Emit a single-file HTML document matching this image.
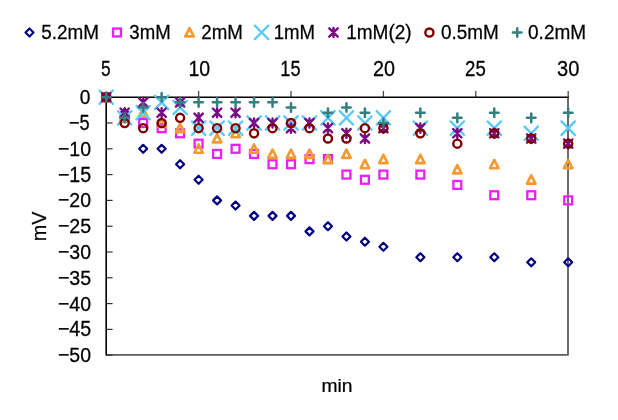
<!DOCTYPE html>
<html><head><meta charset="utf-8"><style>
html,body{margin:0;padding:0;background:#fff;}
svg{display:block;will-change:transform;}
</style></head><body>
<svg width="618" height="420" viewBox="0 0 618 420">
<rect width="618" height="420" fill="#fff"/>
<path d="M29.50 28.50L33.50 32.50L29.50 36.50L25.50 32.50Z" fill="none" stroke="#000080" stroke-width="2.2" stroke-linejoin="round"/>
<text transform="matrix(0.18908 0 0 0.20704 41.244 38.693)" font-size="100" font-family="Liberation Sans" fill="#000" stroke="#000" stroke-width="1.3">5.2mM</text>
<rect x="113.05" y="28.55" width="7.90" height="7.90" fill="none" stroke="#E820F2" stroke-width="2.3"/>
<text transform="matrix(0.18619 0 0 0.20704 129.355 38.693)" font-size="100" font-family="Liberation Sans" fill="#000" stroke="#000" stroke-width="1.3">3mM</text>
<path d="M189.50 28.20L193.70 36.45L185.30 36.45Z" fill="none" stroke="#F39B30" stroke-width="2.7" stroke-linejoin="round"/>
<text transform="matrix(0.18708 0 0 0.20704 201.265 38.693)" font-size="100" font-family="Liberation Sans" fill="#000" stroke="#000" stroke-width="1.3">2mM</text>
<path d="M254.90 25.70L268.30 39.10M268.30 25.70L254.90 39.10" stroke="#5CCBF7" stroke-width="2.4" stroke-linecap="round"/>
<text transform="matrix(0.18592 0 0 0.20704 273.713 38.693)" font-size="100" font-family="Liberation Sans" fill="#000" stroke="#000" stroke-width="1.3">1mM</text>
<path d="M329.30 28.30L337.70 36.70M337.70 28.30L329.30 36.70M333.50 27.90L333.50 37.10" stroke="#7A0A85" stroke-width="2.4" stroke-linecap="round"/>
<text transform="matrix(0.19030 0 0 0.20704 346.178 38.693)" font-size="100" font-family="Liberation Sans" fill="#000" stroke="#000" stroke-width="1.3">1mM(2)</text>
<circle cx="429.40" cy="32.50" r="4.05" fill="none" stroke="#7E0000" stroke-width="2.4"/>
<text transform="matrix(0.18908 0 0 0.20704 440.944 38.693)" font-size="100" font-family="Liberation Sans" fill="#000" stroke="#000" stroke-width="1.3">0.5mM</text>
<path d="M512.90 32.50L521.50 32.50M517.20 28.20L517.20 36.80" stroke="#347F80" stroke-width="2.5" stroke-linecap="round"/>
<text transform="matrix(0.19010 0 0 0.20704 528.040 38.693)" font-size="100" font-family="Liberation Sans" fill="#000" stroke="#000" stroke-width="1.3">0.2mM</text>
<path d="M568.0 97.20V354.8H106.20" fill="none" stroke="#5E5E5E" stroke-width="1.8" stroke-linejoin="round"/>
<path d="M198.60 91.0V97.20" stroke="#4A4A4A" stroke-width="1.3"/>
<path d="M291.00 91.0V97.20" stroke="#4A4A4A" stroke-width="1.3"/>
<path d="M383.40 91.0V97.20" stroke="#4A4A4A" stroke-width="1.3"/>
<path d="M475.80 91.0V97.20" stroke="#4A4A4A" stroke-width="1.3"/>
<path d="M568.20 91.0V97.20" stroke="#4A4A4A" stroke-width="1.3"/>
<path d="M106.20 123.00H112.6" stroke="#333" stroke-width="1.2"/>
<path d="M106.20 148.80H112.6" stroke="#333" stroke-width="1.2"/>
<path d="M106.20 174.60H112.6" stroke="#333" stroke-width="1.2"/>
<path d="M106.20 200.40H112.6" stroke="#333" stroke-width="1.2"/>
<path d="M106.20 226.20H112.6" stroke="#333" stroke-width="1.2"/>
<path d="M106.20 252.00H112.6" stroke="#333" stroke-width="1.2"/>
<path d="M106.20 277.80H112.6" stroke="#333" stroke-width="1.2"/>
<path d="M106.20 303.60H112.6" stroke="#333" stroke-width="1.2"/>
<path d="M106.20 329.40H112.6" stroke="#333" stroke-width="1.2"/>
<path d="M106.20 355.20H112.6" stroke="#333" stroke-width="1.2"/>
<path d="M568.70 97.20H106.20V355.6" fill="none" stroke="#000" stroke-width="1.6"/>
<text transform="matrix(0.17234 0 0 0.21857 101.111 75.781)" font-size="100" font-family="Liberation Sans" fill="#000" stroke="#000" stroke-width="1.3">5</text>
<text transform="matrix(0.19495 0 0 0.21549 188.440 75.785)" font-size="100" font-family="Liberation Sans" fill="#000" stroke="#000" stroke-width="1.3">10</text>
<text transform="matrix(0.18081 0 0 0.21857 280.354 75.781)" font-size="100" font-family="Liberation Sans" fill="#000" stroke="#000" stroke-width="1.3">15</text>
<text transform="matrix(0.19804 0 0 0.21549 373.010 75.785)" font-size="100" font-family="Liberation Sans" fill="#000" stroke="#000" stroke-width="1.3">20</text>
<text transform="matrix(0.18627 0 0 0.21549 465.069 75.785)" font-size="100" font-family="Liberation Sans" fill="#000" stroke="#000" stroke-width="1.3">25</text>
<text transform="matrix(0.20097 0 0 0.21549 556.996 75.785)" font-size="100" font-family="Liberation Sans" fill="#000" stroke="#000" stroke-width="1.3">30</text>
<text transform="matrix(0.19167 0 0 0.21127 79.633 104.289)" font-size="100" font-family="Liberation Sans" fill="#000" stroke="#000" stroke-width="1.3">0</text>
<text transform="matrix(0.18190 0 0 0.21429 68.990 130.086)" font-size="100" font-family="Liberation Sans" fill="#000" stroke="#000" stroke-width="1.3">−5</text>
<text transform="matrix(0.19503 0 0 0.21127 57.925 155.889)" font-size="100" font-family="Liberation Sans" fill="#000" stroke="#000" stroke-width="1.3">−10</text>
<text transform="matrix(0.19625 0 0 0.21429 57.919 181.686)" font-size="100" font-family="Liberation Sans" fill="#000" stroke="#000" stroke-width="1.3">−15</text>
<text transform="matrix(0.19503 0 0 0.21127 57.925 207.489)" font-size="100" font-family="Liberation Sans" fill="#000" stroke="#000" stroke-width="1.3">−20</text>
<text transform="matrix(0.19625 0 0 0.21127 57.919 233.289)" font-size="100" font-family="Liberation Sans" fill="#000" stroke="#000" stroke-width="1.3">−25</text>
<text transform="matrix(0.19503 0 0 0.21127 57.925 259.089)" font-size="100" font-family="Liberation Sans" fill="#000" stroke="#000" stroke-width="1.3">−30</text>
<text transform="matrix(0.19625 0 0 0.21127 57.919 284.889)" font-size="100" font-family="Liberation Sans" fill="#000" stroke="#000" stroke-width="1.3">−35</text>
<text transform="matrix(0.19503 0 0 0.21127 57.925 310.689)" font-size="100" font-family="Liberation Sans" fill="#000" stroke="#000" stroke-width="1.3">−40</text>
<text transform="matrix(0.19625 0 0 0.21429 57.919 336.486)" font-size="100" font-family="Liberation Sans" fill="#000" stroke="#000" stroke-width="1.3">−45</text>
<text transform="matrix(0.19503 0 0 0.21127 57.925 362.289)" font-size="100" font-family="Liberation Sans" fill="#000" stroke="#000" stroke-width="1.3">−50</text>
<text transform="matrix(0.19257 0 0 0.18356 321.452 391.700)" font-size="100" font-family="Liberation Sans" fill="#000" stroke="#000" stroke-width="1.3">min</text>
<text transform="matrix(0 -0.19789 0.20435 0 46.000 241.185)" font-size="100" font-family="Liberation Sans" fill="#000" stroke="#000" stroke-width="1.3">mV</text>
<path d="M106.20 93.20L110.20 97.20L106.20 101.20L102.20 97.20Z" fill="none" stroke="#000080" stroke-width="2.2" stroke-linejoin="round"/>
<path d="M124.68 108.68L128.68 112.68L124.68 116.68L120.68 112.68Z" fill="none" stroke="#000080" stroke-width="2.2" stroke-linejoin="round"/>
<path d="M143.16 144.80L147.16 148.80L143.16 152.80L139.16 148.80Z" fill="none" stroke="#000080" stroke-width="2.2" stroke-linejoin="round"/>
<path d="M161.64 144.80L165.64 148.80L161.64 152.80L157.64 148.80Z" fill="none" stroke="#000080" stroke-width="2.2" stroke-linejoin="round"/>
<path d="M180.12 160.28L184.12 164.28L180.12 168.28L176.12 164.28Z" fill="none" stroke="#000080" stroke-width="2.2" stroke-linejoin="round"/>
<path d="M198.60 175.76L202.60 179.76L198.60 183.76L194.60 179.76Z" fill="none" stroke="#000080" stroke-width="2.2" stroke-linejoin="round"/>
<path d="M217.08 196.40L221.08 200.40L217.08 204.40L213.08 200.40Z" fill="none" stroke="#000080" stroke-width="2.2" stroke-linejoin="round"/>
<path d="M235.56 201.56L239.56 205.56L235.56 209.56L231.56 205.56Z" fill="none" stroke="#000080" stroke-width="2.2" stroke-linejoin="round"/>
<path d="M254.04 211.88L258.04 215.88L254.04 219.88L250.04 215.88Z" fill="none" stroke="#000080" stroke-width="2.2" stroke-linejoin="round"/>
<path d="M272.52 211.88L276.52 215.88L272.52 219.88L268.52 215.88Z" fill="none" stroke="#000080" stroke-width="2.2" stroke-linejoin="round"/>
<path d="M291.00 211.88L295.00 215.88L291.00 219.88L287.00 215.88Z" fill="none" stroke="#000080" stroke-width="2.2" stroke-linejoin="round"/>
<path d="M309.48 227.36L313.48 231.36L309.48 235.36L305.48 231.36Z" fill="none" stroke="#000080" stroke-width="2.2" stroke-linejoin="round"/>
<path d="M327.96 222.20L331.96 226.20L327.96 230.20L323.96 226.20Z" fill="none" stroke="#000080" stroke-width="2.2" stroke-linejoin="round"/>
<path d="M346.44 232.52L350.44 236.52L346.44 240.52L342.44 236.52Z" fill="none" stroke="#000080" stroke-width="2.2" stroke-linejoin="round"/>
<path d="M364.92 237.68L368.92 241.68L364.92 245.68L360.92 241.68Z" fill="none" stroke="#000080" stroke-width="2.2" stroke-linejoin="round"/>
<path d="M383.40 242.84L387.40 246.84L383.40 250.84L379.40 246.84Z" fill="none" stroke="#000080" stroke-width="2.2" stroke-linejoin="round"/>
<path d="M420.36 253.16L424.36 257.16L420.36 261.16L416.36 257.16Z" fill="none" stroke="#000080" stroke-width="2.2" stroke-linejoin="round"/>
<path d="M457.32 253.16L461.32 257.16L457.32 261.16L453.32 257.16Z" fill="none" stroke="#000080" stroke-width="2.2" stroke-linejoin="round"/>
<path d="M494.28 253.16L498.28 257.16L494.28 261.16L490.28 257.16Z" fill="none" stroke="#000080" stroke-width="2.2" stroke-linejoin="round"/>
<path d="M531.24 258.32L535.24 262.32L531.24 266.32L527.24 262.32Z" fill="none" stroke="#000080" stroke-width="2.2" stroke-linejoin="round"/>
<path d="M568.20 258.32L572.20 262.32L568.20 266.32L564.20 262.32Z" fill="none" stroke="#000080" stroke-width="2.2" stroke-linejoin="round"/>
<rect x="102.25" y="93.25" width="7.90" height="7.90" fill="none" stroke="#E820F2" stroke-width="2.3"/>
<rect x="120.73" y="113.89" width="7.90" height="7.90" fill="none" stroke="#E820F2" stroke-width="2.3"/>
<rect x="139.21" y="119.05" width="7.90" height="7.90" fill="none" stroke="#E820F2" stroke-width="2.3"/>
<rect x="157.69" y="124.21" width="7.90" height="7.90" fill="none" stroke="#E820F2" stroke-width="2.3"/>
<rect x="176.17" y="129.37" width="7.90" height="7.90" fill="none" stroke="#E820F2" stroke-width="2.3"/>
<rect x="194.65" y="139.69" width="7.90" height="7.90" fill="none" stroke="#E820F2" stroke-width="2.3"/>
<rect x="213.13" y="150.01" width="7.90" height="7.90" fill="none" stroke="#E820F2" stroke-width="2.3"/>
<rect x="231.61" y="144.85" width="7.90" height="7.90" fill="none" stroke="#E820F2" stroke-width="2.3"/>
<rect x="250.09" y="150.01" width="7.90" height="7.90" fill="none" stroke="#E820F2" stroke-width="2.3"/>
<rect x="268.57" y="160.33" width="7.90" height="7.90" fill="none" stroke="#E820F2" stroke-width="2.3"/>
<rect x="287.05" y="160.33" width="7.90" height="7.90" fill="none" stroke="#E820F2" stroke-width="2.3"/>
<rect x="305.53" y="155.17" width="7.90" height="7.90" fill="none" stroke="#E820F2" stroke-width="2.3"/>
<rect x="324.01" y="155.17" width="7.90" height="7.90" fill="none" stroke="#E820F2" stroke-width="2.3"/>
<rect x="342.49" y="170.65" width="7.90" height="7.90" fill="none" stroke="#E820F2" stroke-width="2.3"/>
<rect x="360.97" y="175.81" width="7.90" height="7.90" fill="none" stroke="#E820F2" stroke-width="2.3"/>
<rect x="379.45" y="170.65" width="7.90" height="7.90" fill="none" stroke="#E820F2" stroke-width="2.3"/>
<rect x="416.41" y="170.65" width="7.90" height="7.90" fill="none" stroke="#E820F2" stroke-width="2.3"/>
<rect x="453.37" y="180.97" width="7.90" height="7.90" fill="none" stroke="#E820F2" stroke-width="2.3"/>
<rect x="490.33" y="191.29" width="7.90" height="7.90" fill="none" stroke="#E820F2" stroke-width="2.3"/>
<rect x="527.29" y="191.29" width="7.90" height="7.90" fill="none" stroke="#E820F2" stroke-width="2.3"/>
<rect x="564.25" y="196.45" width="7.90" height="7.90" fill="none" stroke="#E820F2" stroke-width="2.3"/>
<path d="M106.20 92.90L110.40 101.15L102.00 101.15Z" fill="none" stroke="#F39B30" stroke-width="2.7" stroke-linejoin="round"/>
<path d="M124.68 113.54L128.88 121.79L120.48 121.79Z" fill="none" stroke="#F39B30" stroke-width="2.7" stroke-linejoin="round"/>
<path d="M143.16 108.38L147.36 116.63L138.96 116.63Z" fill="none" stroke="#F39B30" stroke-width="2.7" stroke-linejoin="round"/>
<path d="M161.64 118.70L165.84 126.95L157.44 126.95Z" fill="none" stroke="#F39B30" stroke-width="2.7" stroke-linejoin="round"/>
<path d="M180.12 123.86L184.32 132.11L175.92 132.11Z" fill="none" stroke="#F39B30" stroke-width="2.7" stroke-linejoin="round"/>
<path d="M198.60 144.50L202.80 152.75L194.40 152.75Z" fill="none" stroke="#F39B30" stroke-width="2.7" stroke-linejoin="round"/>
<path d="M217.08 134.18L221.28 142.43L212.88 142.43Z" fill="none" stroke="#F39B30" stroke-width="2.7" stroke-linejoin="round"/>
<path d="M235.56 129.02L239.76 137.27L231.36 137.27Z" fill="none" stroke="#F39B30" stroke-width="2.7" stroke-linejoin="round"/>
<path d="M254.04 144.50L258.24 152.75L249.84 152.75Z" fill="none" stroke="#F39B30" stroke-width="2.7" stroke-linejoin="round"/>
<path d="M272.52 149.66L276.72 157.91L268.32 157.91Z" fill="none" stroke="#F39B30" stroke-width="2.7" stroke-linejoin="round"/>
<path d="M291.00 149.66L295.20 157.91L286.80 157.91Z" fill="none" stroke="#F39B30" stroke-width="2.7" stroke-linejoin="round"/>
<path d="M309.48 149.66L313.68 157.91L305.28 157.91Z" fill="none" stroke="#F39B30" stroke-width="2.7" stroke-linejoin="round"/>
<path d="M327.96 154.82L332.16 163.07L323.76 163.07Z" fill="none" stroke="#F39B30" stroke-width="2.7" stroke-linejoin="round"/>
<path d="M346.44 149.66L350.64 157.91L342.24 157.91Z" fill="none" stroke="#F39B30" stroke-width="2.7" stroke-linejoin="round"/>
<path d="M364.92 159.98L369.12 168.23L360.72 168.23Z" fill="none" stroke="#F39B30" stroke-width="2.7" stroke-linejoin="round"/>
<path d="M383.40 154.82L387.60 163.07L379.20 163.07Z" fill="none" stroke="#F39B30" stroke-width="2.7" stroke-linejoin="round"/>
<path d="M420.36 154.82L424.56 163.07L416.16 163.07Z" fill="none" stroke="#F39B30" stroke-width="2.7" stroke-linejoin="round"/>
<path d="M457.32 165.14L461.52 173.39L453.12 173.39Z" fill="none" stroke="#F39B30" stroke-width="2.7" stroke-linejoin="round"/>
<path d="M494.28 159.98L498.48 168.23L490.08 168.23Z" fill="none" stroke="#F39B30" stroke-width="2.7" stroke-linejoin="round"/>
<path d="M531.24 175.46L535.44 183.71L527.04 183.71Z" fill="none" stroke="#F39B30" stroke-width="2.7" stroke-linejoin="round"/>
<path d="M568.20 159.98L572.40 168.23L564.00 168.23Z" fill="none" stroke="#F39B30" stroke-width="2.7" stroke-linejoin="round"/>
<path d="M99.50 90.50L112.90 103.90M112.90 90.50L99.50 103.90" stroke="#5CCBF7" stroke-width="2.4" stroke-linecap="round"/>
<path d="M117.98 111.14L131.38 124.54M131.38 111.14L117.98 124.54" stroke="#5CCBF7" stroke-width="2.4" stroke-linecap="round"/>
<path d="M136.46 105.98L149.86 119.38M149.86 105.98L136.46 119.38" stroke="#5CCBF7" stroke-width="2.4" stroke-linecap="round"/>
<path d="M154.94 95.66L168.34 109.06M168.34 95.66L154.94 109.06" stroke="#5CCBF7" stroke-width="2.4" stroke-linecap="round"/>
<path d="M173.42 100.82L186.82 114.22M186.82 100.82L173.42 114.22" stroke="#5CCBF7" stroke-width="2.4" stroke-linecap="round"/>
<path d="M191.90 121.46L205.30 134.86M205.30 121.46L191.90 134.86" stroke="#5CCBF7" stroke-width="2.4" stroke-linecap="round"/>
<path d="M210.38 121.46L223.78 134.86M223.78 121.46L210.38 134.86" stroke="#5CCBF7" stroke-width="2.4" stroke-linecap="round"/>
<path d="M228.86 121.46L242.26 134.86M242.26 121.46L228.86 134.86" stroke="#5CCBF7" stroke-width="2.4" stroke-linecap="round"/>
<path d="M247.34 116.30L260.74 129.70M260.74 116.30L247.34 129.70" stroke="#5CCBF7" stroke-width="2.4" stroke-linecap="round"/>
<path d="M265.82 116.30L279.22 129.70M279.22 116.30L265.82 129.70" stroke="#5CCBF7" stroke-width="2.4" stroke-linecap="round"/>
<path d="M284.30 116.30L297.70 129.70M297.70 116.30L284.30 129.70" stroke="#5CCBF7" stroke-width="2.4" stroke-linecap="round"/>
<path d="M302.78 116.30L316.18 129.70M316.18 116.30L302.78 129.70" stroke="#5CCBF7" stroke-width="2.4" stroke-linecap="round"/>
<path d="M321.26 111.14L334.66 124.54M334.66 111.14L321.26 124.54" stroke="#5CCBF7" stroke-width="2.4" stroke-linecap="round"/>
<path d="M339.74 111.14L353.14 124.54M353.14 111.14L339.74 124.54" stroke="#5CCBF7" stroke-width="2.4" stroke-linecap="round"/>
<path d="M358.22 116.30L371.62 129.70M371.62 116.30L358.22 129.70" stroke="#5CCBF7" stroke-width="2.4" stroke-linecap="round"/>
<path d="M376.70 111.14L390.10 124.54M390.10 111.14L376.70 124.54" stroke="#5CCBF7" stroke-width="2.4" stroke-linecap="round"/>
<path d="M413.66 121.46L427.06 134.86M427.06 121.46L413.66 134.86" stroke="#5CCBF7" stroke-width="2.4" stroke-linecap="round"/>
<path d="M450.62 121.46L464.02 134.86M464.02 121.46L450.62 134.86" stroke="#5CCBF7" stroke-width="2.4" stroke-linecap="round"/>
<path d="M487.58 121.46L500.98 134.86M500.98 121.46L487.58 134.86" stroke="#5CCBF7" stroke-width="2.4" stroke-linecap="round"/>
<path d="M524.54 126.62L537.94 140.02M537.94 126.62L524.54 140.02" stroke="#5CCBF7" stroke-width="2.4" stroke-linecap="round"/>
<path d="M561.50 121.46L574.90 134.86M574.90 121.46L561.50 134.86" stroke="#5CCBF7" stroke-width="2.4" stroke-linecap="round"/>
<path d="M102.00 93.00L110.40 101.40M110.40 93.00L102.00 101.40M106.20 92.60L106.20 101.80" stroke="#7A0A85" stroke-width="2.4" stroke-linecap="round"/>
<path d="M120.48 108.48L128.88 116.88M128.88 108.48L120.48 116.88M124.68 108.08L124.68 117.28" stroke="#7A0A85" stroke-width="2.4" stroke-linecap="round"/>
<path d="M138.96 98.16L147.36 106.56M147.36 98.16L138.96 106.56M143.16 97.76L143.16 106.96" stroke="#7A0A85" stroke-width="2.4" stroke-linecap="round"/>
<path d="M157.44 108.48L165.84 116.88M165.84 108.48L157.44 116.88M161.64 108.08L161.64 117.28" stroke="#7A0A85" stroke-width="2.4" stroke-linecap="round"/>
<path d="M175.92 98.16L184.32 106.56M184.32 98.16L175.92 106.56M180.12 97.76L180.12 106.96" stroke="#7A0A85" stroke-width="2.4" stroke-linecap="round"/>
<path d="M194.40 113.64L202.80 122.04M202.80 113.64L194.40 122.04M198.60 113.24L198.60 122.44" stroke="#7A0A85" stroke-width="2.4" stroke-linecap="round"/>
<path d="M212.88 108.48L221.28 116.88M221.28 108.48L212.88 116.88M217.08 108.08L217.08 117.28" stroke="#7A0A85" stroke-width="2.4" stroke-linecap="round"/>
<path d="M231.36 108.48L239.76 116.88M239.76 108.48L231.36 116.88M235.56 108.08L235.56 117.28" stroke="#7A0A85" stroke-width="2.4" stroke-linecap="round"/>
<path d="M249.84 118.80L258.24 127.20M258.24 118.80L249.84 127.20M254.04 118.40L254.04 127.60" stroke="#7A0A85" stroke-width="2.4" stroke-linecap="round"/>
<path d="M268.32 118.80L276.72 127.20M276.72 118.80L268.32 127.20M272.52 118.40L272.52 127.60" stroke="#7A0A85" stroke-width="2.4" stroke-linecap="round"/>
<path d="M286.80 123.96L295.20 132.36M295.20 123.96L286.80 132.36M291.00 123.56L291.00 132.76" stroke="#7A0A85" stroke-width="2.4" stroke-linecap="round"/>
<path d="M305.28 118.80L313.68 127.20M313.68 118.80L305.28 127.20M309.48 118.40L309.48 127.60" stroke="#7A0A85" stroke-width="2.4" stroke-linecap="round"/>
<path d="M323.76 123.96L332.16 132.36M332.16 123.96L323.76 132.36M327.96 123.56L327.96 132.76" stroke="#7A0A85" stroke-width="2.4" stroke-linecap="round"/>
<path d="M342.24 129.12L350.64 137.52M350.64 129.12L342.24 137.52M346.44 128.72L346.44 137.92" stroke="#7A0A85" stroke-width="2.4" stroke-linecap="round"/>
<path d="M360.72 134.28L369.12 142.68M369.12 134.28L360.72 142.68M364.92 133.88L364.92 143.08" stroke="#7A0A85" stroke-width="2.4" stroke-linecap="round"/>
<path d="M379.20 123.96L387.60 132.36M387.60 123.96L379.20 132.36M383.40 123.56L383.40 132.76" stroke="#7A0A85" stroke-width="2.4" stroke-linecap="round"/>
<path d="M416.16 123.96L424.56 132.36M424.56 123.96L416.16 132.36M420.36 123.56L420.36 132.76" stroke="#7A0A85" stroke-width="2.4" stroke-linecap="round"/>
<path d="M453.12 129.12L461.52 137.52M461.52 129.12L453.12 137.52M457.32 128.72L457.32 137.92" stroke="#7A0A85" stroke-width="2.4" stroke-linecap="round"/>
<path d="M490.08 129.12L498.48 137.52M498.48 129.12L490.08 137.52M494.28 128.72L494.28 137.92" stroke="#7A0A85" stroke-width="2.4" stroke-linecap="round"/>
<path d="M527.04 134.28L535.44 142.68M535.44 134.28L527.04 142.68M531.24 133.88L531.24 143.08" stroke="#7A0A85" stroke-width="2.4" stroke-linecap="round"/>
<path d="M564.00 139.44L572.40 147.84M572.40 139.44L564.00 147.84M568.20 139.04L568.20 148.24" stroke="#7A0A85" stroke-width="2.4" stroke-linecap="round"/>
<circle cx="106.20" cy="97.20" r="4.05" fill="none" stroke="#7E0000" stroke-width="2.4"/>
<circle cx="124.68" cy="123.00" r="4.05" fill="none" stroke="#7E0000" stroke-width="2.4"/>
<circle cx="143.16" cy="128.16" r="4.05" fill="none" stroke="#7E0000" stroke-width="2.4"/>
<circle cx="161.64" cy="123.00" r="4.05" fill="none" stroke="#7E0000" stroke-width="2.4"/>
<circle cx="180.12" cy="117.84" r="4.05" fill="none" stroke="#7E0000" stroke-width="2.4"/>
<circle cx="198.60" cy="128.16" r="4.05" fill="none" stroke="#7E0000" stroke-width="2.4"/>
<circle cx="217.08" cy="128.16" r="4.05" fill="none" stroke="#7E0000" stroke-width="2.4"/>
<circle cx="235.56" cy="128.16" r="4.05" fill="none" stroke="#7E0000" stroke-width="2.4"/>
<circle cx="254.04" cy="133.32" r="4.05" fill="none" stroke="#7E0000" stroke-width="2.4"/>
<circle cx="272.52" cy="128.16" r="4.05" fill="none" stroke="#7E0000" stroke-width="2.4"/>
<circle cx="291.00" cy="123.00" r="4.05" fill="none" stroke="#7E0000" stroke-width="2.4"/>
<circle cx="309.48" cy="128.16" r="4.05" fill="none" stroke="#7E0000" stroke-width="2.4"/>
<circle cx="327.96" cy="138.48" r="4.05" fill="none" stroke="#7E0000" stroke-width="2.4"/>
<circle cx="346.44" cy="138.48" r="4.05" fill="none" stroke="#7E0000" stroke-width="2.4"/>
<circle cx="364.92" cy="128.16" r="4.05" fill="none" stroke="#7E0000" stroke-width="2.4"/>
<circle cx="383.40" cy="128.16" r="4.05" fill="none" stroke="#7E0000" stroke-width="2.4"/>
<circle cx="420.36" cy="133.32" r="4.05" fill="none" stroke="#7E0000" stroke-width="2.4"/>
<circle cx="457.32" cy="143.64" r="4.05" fill="none" stroke="#7E0000" stroke-width="2.4"/>
<circle cx="494.28" cy="133.32" r="4.05" fill="none" stroke="#7E0000" stroke-width="2.4"/>
<circle cx="531.24" cy="138.48" r="4.05" fill="none" stroke="#7E0000" stroke-width="2.4"/>
<circle cx="568.20" cy="143.64" r="4.05" fill="none" stroke="#7E0000" stroke-width="2.4"/>
<path d="M101.90 97.20L110.50 97.20M106.20 92.90L106.20 101.50" stroke="#347F80" stroke-width="2.5" stroke-linecap="round"/>
<path d="M120.38 117.84L128.98 117.84M124.68 113.54L124.68 122.14" stroke="#347F80" stroke-width="2.5" stroke-linecap="round"/>
<path d="M138.86 107.52L147.46 107.52M143.16 103.22L143.16 111.82" stroke="#347F80" stroke-width="2.5" stroke-linecap="round"/>
<path d="M157.34 97.20L165.94 97.20M161.64 92.90L161.64 101.50" stroke="#347F80" stroke-width="2.5" stroke-linecap="round"/>
<path d="M175.82 102.36L184.42 102.36M180.12 98.06L180.12 106.66" stroke="#347F80" stroke-width="2.5" stroke-linecap="round"/>
<path d="M194.30 102.36L202.90 102.36M198.60 98.06L198.60 106.66" stroke="#347F80" stroke-width="2.5" stroke-linecap="round"/>
<path d="M212.78 102.36L221.38 102.36M217.08 98.06L217.08 106.66" stroke="#347F80" stroke-width="2.5" stroke-linecap="round"/>
<path d="M231.26 102.36L239.86 102.36M235.56 98.06L235.56 106.66" stroke="#347F80" stroke-width="2.5" stroke-linecap="round"/>
<path d="M249.74 102.36L258.34 102.36M254.04 98.06L254.04 106.66" stroke="#347F80" stroke-width="2.5" stroke-linecap="round"/>
<path d="M268.22 102.36L276.82 102.36M272.52 98.06L272.52 106.66" stroke="#347F80" stroke-width="2.5" stroke-linecap="round"/>
<path d="M286.70 107.52L295.30 107.52M291.00 103.22L291.00 111.82" stroke="#347F80" stroke-width="2.5" stroke-linecap="round"/>
<path d="M323.66 112.68L332.26 112.68M327.96 108.38L327.96 116.98" stroke="#347F80" stroke-width="2.5" stroke-linecap="round"/>
<path d="M342.14 107.52L350.74 107.52M346.44 103.22L346.44 111.82" stroke="#347F80" stroke-width="2.5" stroke-linecap="round"/>
<path d="M360.62 112.68L369.22 112.68M364.92 108.38L364.92 116.98" stroke="#347F80" stroke-width="2.5" stroke-linecap="round"/>
<path d="M379.10 123.00L387.70 123.00M383.40 118.70L383.40 127.30" stroke="#347F80" stroke-width="2.5" stroke-linecap="round"/>
<path d="M416.06 112.68L424.66 112.68M420.36 108.38L420.36 116.98" stroke="#347F80" stroke-width="2.5" stroke-linecap="round"/>
<path d="M453.02 117.84L461.62 117.84M457.32 113.54L457.32 122.14" stroke="#347F80" stroke-width="2.5" stroke-linecap="round"/>
<path d="M489.98 112.68L498.58 112.68M494.28 108.38L494.28 116.98" stroke="#347F80" stroke-width="2.5" stroke-linecap="round"/>
<path d="M526.94 117.84L535.54 117.84M531.24 113.54L531.24 122.14" stroke="#347F80" stroke-width="2.5" stroke-linecap="round"/>
<path d="M563.90 112.68L572.50 112.68M568.20 108.38L568.20 116.98" stroke="#347F80" stroke-width="2.5" stroke-linecap="round"/>
</svg>
</body></html>
